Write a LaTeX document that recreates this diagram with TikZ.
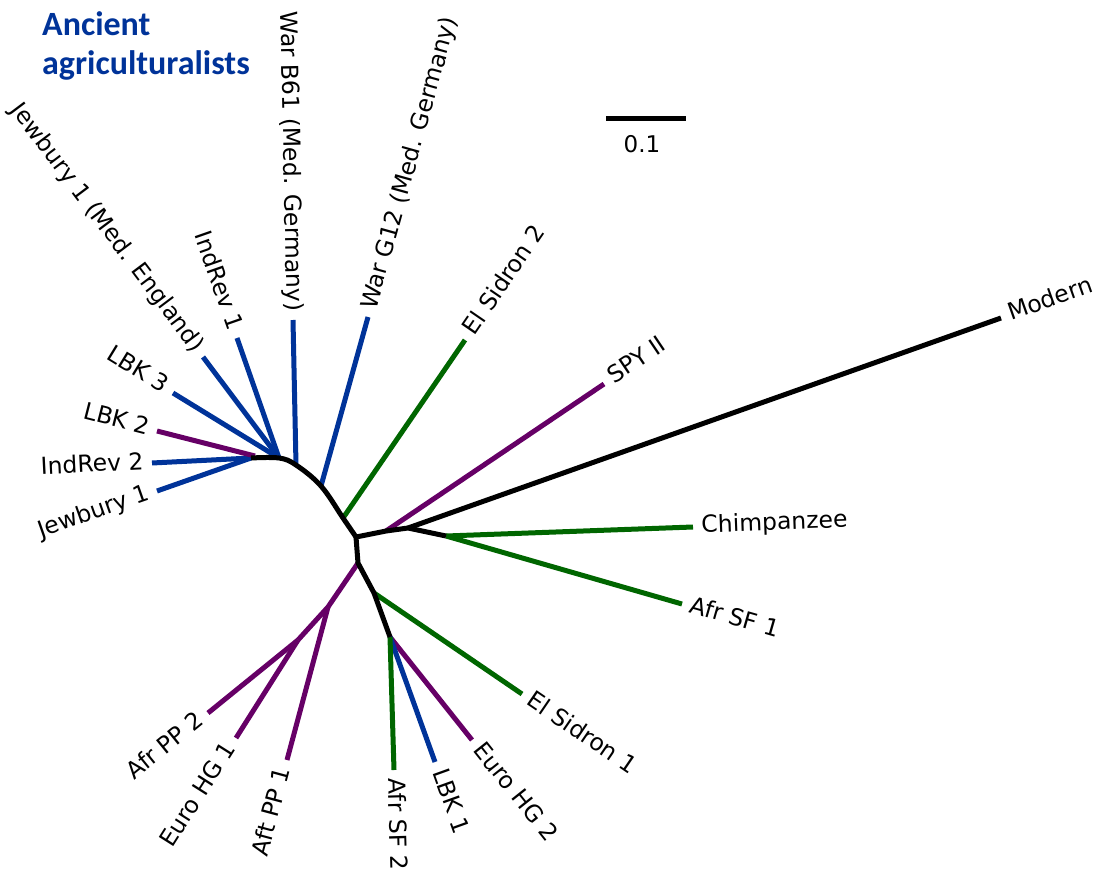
\documentclass[tikz,border=0pt]{standalone}
\usepackage{fontspec}
\setmainfont{DejaVu Sans}
\newfontfamily\titlefont{Carlito}
\definecolor{tblue}{RGB}{0,51,153}
\definecolor{tgreen}{RGB}{0,102,0}
\definecolor{tpurple}{RGB}{102,0,102}
\begin{document}
\begin{tikzpicture}[x=1pt,y=-1pt,
  br/.style={line width=5pt},
  bb/.style={br,tblue},
  bg/.style={br,tgreen},
  bp/.style={br,tpurple},
  bk/.style={br,black,line join=round},
  lab/.style={font=\fontsize{23.5}{27}\selectfont, text=black, inner sep=6pt, text height=16pt, text depth=4pt, pos=1, sloped},
  labr/.style={lab, anchor=west},
  labl/.style={lab, anchor=east}]
\useasboundingbox (0,0) rectangle (1099,874);
% junctions
\coordinate (A1) at (251,458);
\coordinate (A1b) at (255,456);
\coordinate (A2) at (279,458);
\coordinate (A3) at (296,465);
\coordinate (A4) at (321,486);
\coordinate (A5) at (343,518);
\coordinate (C) at (356,537);
\coordinate (R1) at (386,531);
\coordinate (R2) at (408,528);
\coordinate (R3) at (446,536);
\coordinate (J1) at (358,563);
\coordinate (P1) at (328,607);
\coordinate (P2) at (298,640);
\coordinate (J2) at (374,593);
\coordinate (J3) at (390,637);
% tips
\coordinate (tJew) at (157,491);
\coordinate (tIR2) at (152,463);
\coordinate (tLBK2) at (157,431);
\coordinate (tLBK3) at (173,393);
\coordinate (tJewE) at (203,357);
\coordinate (tIR1) at (237,338);
\coordinate (tB61) at (293,320);
\coordinate (tG12) at (368,317);
\coordinate (tES2) at (465,340);
\coordinate (tSPY) at (604,384);
\coordinate (tMod) at (1001,318);
\coordinate (tChimp) at (693,527);
\coordinate (tASF1) at (682,604);
\coordinate (tES1) at (522,694);
\coordinate (tEHG2) at (472,740);
\coordinate (tLBK1) at (435,762);
\coordinate (tASF2) at (394,770);
\coordinate (tAPP1) at (287,760);
\coordinate (tEHG1) at (236,738);
\coordinate (tAPP2) at (208,713);
% title
\node[anchor=north west, inner sep=0pt, align=left, text=tblue,
  font=\titlefont\bfseries\fontsize{34}{39}\selectfont] (title) at (42,11)
  {Ancient\\agriculturalists};
% scale bar
\coordinate (sb1) at (606,119);
\coordinate (sb2) at (686,119);
\draw[br] (sb1) -- (sb2);
\node[font=\fontsize{23}{27}\selectfont, inner sep=0pt] (sblab) at (642,144) {0.1};
% left cluster
\draw[bb] (A1) -- (tJew) node[labl] (nJew) {Jewbury 1};
\draw[bb] (A1) -- (tIR2) node[labl] (nIR2) {IndRev 2};
\draw[bp] (A1b) -- (tLBK2) node[labl] (nLBK2) {LBK 2};
\draw[bb] (A2) -- (tLBK3) node[labl] (nLBK3) {LBK 3};
\draw[bb] (A2) -- (tJewE) node[labl] (nJewE) {Jewbury 1 (Med. England)};
\draw[bb] (A2) -- (tIR1) node[labl] (nIR1) {IndRev 1};
\draw[bb] (A3) -- (tB61) node[labl] (nB61) {War B61 (Med. Germany)};
\draw[bb] (A4) -- (tG12) node[labr] (nG12) {War G12 (Med. Germany)};
\draw[bg] (A5) -- (tES2) node[labr] (nES2) {El Sidron 2};
% right cluster
\draw[bp] (R1) -- (tSPY) node[labr] (nSPY) {SPY II};
\draw[bk] (R2) -- (tMod) node[labr] (nMod) {Modern};
\draw[bg] (R3) -- (tChimp) node[labr] (nChimp) {Chimpanzee};
\draw[bg] (R3) -- (tASF1) node[labr] (nASF1) {Afr SF 1};
% lower cluster
\draw[bg] (J2) -- (tES1) node[labr] (nES1) {El Sidron 1};
\draw[bp] (J3) -- (tEHG2) node[labr] (nEHG2) {Euro HG 2};
\draw[bb] (J3) -- (tLBK1) node[labr] (nLBK1) {LBK 1};
\draw[bg] (J3) -- (tASF2) node[labr] (nASF2) {Afr SF 2};
\draw[bp, line join=round] (J1) -- (P1) -- (P2);
\draw[bp] (P1) -- (tAPP1) node[labl] (nAPP1) {Aft PP 1};
\draw[bp] (P2) -- (tEHG1) node[labl] (nEHG1) {Euro HG 1};
\draw[bp] (P2) -- (tAPP2) node[labl] (nAPP2) {Afr PP 2};
% backbone
\draw[bk] plot[smooth, tension=0.6] coordinates {(A1) (A2) (A3) (A4) (A5) (C)};
\draw[bk] (C) -- (J1) -- (J2) -- (J3);
\draw[bk] (C) -- (R1) -- (R2) -- (R3);
\end{tikzpicture}
\end{document}
